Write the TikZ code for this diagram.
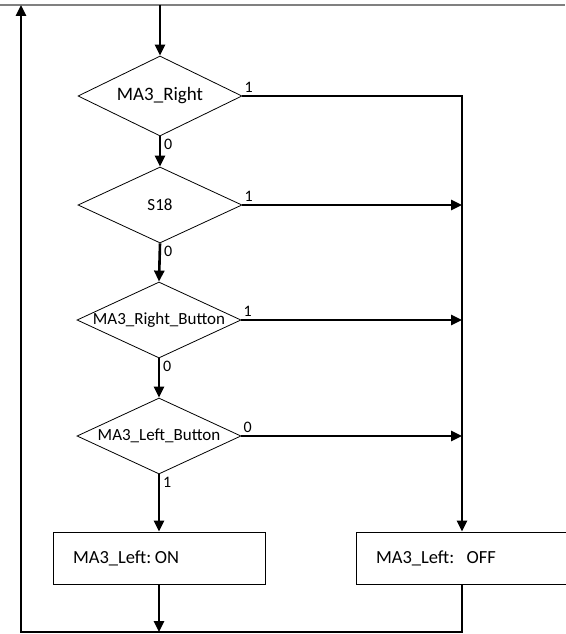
\documentclass[tikz,border=0pt]{standalone}
\usepackage{fontspec}
\setmainfont{Carlito}
\usetikzlibrary{shapes.geometric}
\usetikzlibrary{arrows.meta}
\frenchspacing

\begin{document}
\begin{tikzpicture}[x=1pt, y=-1pt, >={Triangle[length=11pt,width=10pt]},
  flow/.style={line width=2.6pt},
  test/.style={diamond, draw, line width=0.8pt, minimum width=164pt, minimum height=76pt, inner sep=0pt, font=\fontsize{17}{20}\selectfont},
  action/.style={rectangle, draw, line width=0.8pt, minimum width=212pt, minimum height=52pt, text width=172pt, align=left, font=\fontsize{18.5}{21}\selectfont},
  bit/.style={inner sep=1pt, font=\fontsize{16}{19}\selectfont}]
\useasboundingbox (0,0) rectangle (565,634);
\draw [gray, line width=1.4pt] (0,5) -- (565,5);

\node [test, minimum height=80pt, font=\fontsize{19}{22}\selectfont] (right) at (160,96) {\makebox[0pt]{MA3\_Right}};
\node [test] (sensor) at (160,205) {\makebox[0pt]{S18}};
\node [test] (rbutton) at (159,320) {\makebox[0pt]{MA3\_Right\_Button}};
\node [test] (lbutton) at (159,436) {\makebox[0pt]{MA3\_Left\_Button}};
\node [action] (on) at (159,558) {MA3\_Left:\hspace{3.5pt}ON};
\node [action] (off) at (462,558) {MA3\_Left: \ OFF};

\coordinate (entry) at (160,5);
\coordinate (bottomleft) at (21,632);
\coordinate (topleft) at (21,5);

% main chain
\draw [flow,->] (entry) -- (right.north);
\draw [flow,->] (right.south) -- (sensor.north);
\draw [flow,->] (sensor.south) -- (rbutton.north);
\draw [flow,->] (rbutton.south) -- (lbutton.north);
\draw [flow,->] (lbutton.south) -- (on.north);

% branches to OFF
\draw [flow,->] (right.east) -| (off.north);
\draw [flow,->] (sensor.east) -- (sensor.east -| off.north);
\draw [flow,->] (rbutton.east) -- (rbutton.east -| off.north);
\draw [flow,->] (lbutton.east) -- (lbutton.east -| off.north);

% loop back
\draw [flow,->] (on.south) -- (on.south |- bottomleft);
\draw [flow,->] (off.south) |- (bottomleft) -- (topleft);

\node [bit, anchor=south west, xshift=1pt, yshift=2pt] (r1) at (right.east) {1};
\node [bit, anchor=north west, xshift=3pt, yshift=-2pt] (r0) at (right.south) {0};
\node [bit, anchor=south west, xshift=1pt, yshift=2pt] (s1) at (sensor.east) {1};
\node [bit, anchor=north west, xshift=3pt, yshift=-2pt] (s0) at (sensor.south) {0};
\node [bit, anchor=south west, xshift=1pt, yshift=2pt] (b1) at (rbutton.east) {1};
\node [bit, anchor=north west, xshift=3pt, yshift=-2pt] (b0) at (rbutton.south) {0};
\node [bit, anchor=south west, xshift=1pt, yshift=2pt] (l0) at (lbutton.east) {0};
\node [bit, anchor=north west, xshift=3pt, yshift=-2pt] (l1) at (lbutton.south) {1};
\end{tikzpicture}
\end{document}
